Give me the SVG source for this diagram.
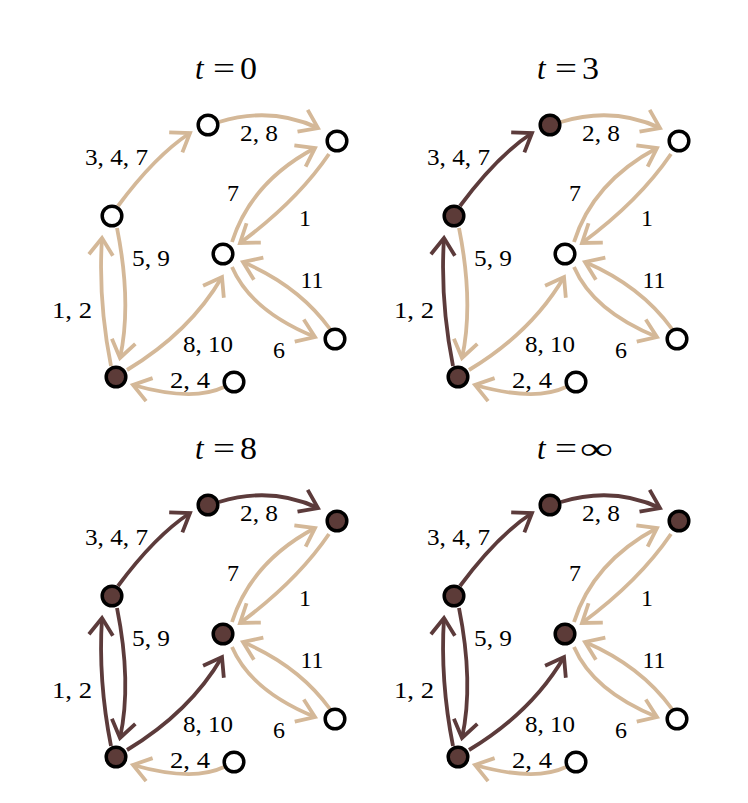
<svg xmlns="http://www.w3.org/2000/svg" width="748" height="803" viewBox="0 0 748 803">
<defs>
<style>
.e{fill:none;stroke-width:3.8}
.et{stroke:#D4B898;marker-end:url(#at)}
.ed{stroke:#5C3B3B;marker-end:url(#ad)}
.n{stroke:#000;stroke-width:3.5}
.nw{fill:#fff}
.nd{fill:#5C3B38}
.lb{font-family:"Liberation Serif","Times New Roman",serif;font-size:24px;fill:#000}
.tt{font-family:"Liberation Serif","Times New Roman",serif;font-size:31px;fill:#000}
</style>
<marker id="at" markerUnits="userSpaceOnUse" markerWidth="50" markerHeight="50" viewBox="-25 -25 50 50" refX="0" refY="0" orient="auto" overflow="visible">
<path d="M-17,-12 L0,0 L-17,12" fill="none" stroke="#D4B898" stroke-width="3.8"/>
</marker>
<marker id="ad" markerUnits="userSpaceOnUse" markerWidth="50" markerHeight="50" viewBox="-25 -25 50 50" refX="0" refY="0" orient="auto" overflow="visible">
<path d="M-17,-12 L0,0 L-17,12" fill="none" stroke="#5C3B3B" stroke-width="3.8"/>
</marker>
</defs>
<rect width="748" height="803" fill="#fff"/>

<!-- Panel t=0 -->
<g id="panel-t0">
<g id="title-t0" class="tt"><text x="195" y="79" font-style="italic">t</text><text x="213" y="79" textLength="22" lengthAdjust="spacingAndGlyphs">=</text><text x="240" y="79" textLength="17" lengthAdjust="spacingAndGlyphs">0</text></g>
<g id="edges-t0" class="e">
<path class="e et" d="M118,206 Q155,156 190,133"/>
<path class="e et" d="M219,122 Q271,106 318,128"/>
<path class="e et" d="M232,242 Q251,182 315,148"/>
<path class="e et" d="M329,154 Q297,201 240,243"/>
<path class="e et" d="M330,329 Q299,286 243,262"/>
<path class="e et" d="M232,267 Q251,311 315,337"/>
<path class="e et" d="M117,228 Q132,303 120,358"/>
<path class="e et" d="M111,366 Q98,300 102,238"/>
<path class="e et" d="M127,370 Q190,332 222,277"/>
<path class="e et" d="M224,387 Q193,402 133,385"/>
</g>
<g id="labels-t0" class="lb">
<text x="85" y="165" textLength="63" lengthAdjust="spacingAndGlyphs">3, 4, 7</text>
<text x="240" y="141" textLength="38" lengthAdjust="spacingAndGlyphs">2, 8</text>
<text x="233" y="201" text-anchor="middle">7</text>
<text x="305" y="226" text-anchor="middle">1</text>
<text x="312" y="288" text-anchor="middle">11</text>
<text x="279" y="358" text-anchor="middle">6</text>
<text x="132" y="266" textLength="38" lengthAdjust="spacingAndGlyphs">5, 9</text>
<text x="52" y="318" textLength="40" lengthAdjust="spacingAndGlyphs">1, 2</text>
<text x="183" y="352" textLength="50" lengthAdjust="spacingAndGlyphs">8, 10</text>
<text x="170" y="388" textLength="40" lengthAdjust="spacingAndGlyphs">2, 4</text>
</g>
<g id="t0-A"><circle class="n nw" cx="208" cy="125" r="9.8"/></g>
<g id="t0-B"><circle class="n nw" cx="337" cy="141" r="9.8"/></g>
<g id="t0-C"><circle class="n nw" cx="112" cy="216" r="9.8"/></g>
<g id="t0-D"><circle class="n nw" cx="223" cy="254" r="9.8"/></g>
<g id="t0-E"><circle class="n nw" cx="335" cy="339" r="9.8"/></g>
<g id="t0-F"><circle class="n nd" cx="116" cy="377" r="9.8"/></g>
<g id="t0-G"><circle class="n nw" cx="234" cy="382" r="9.8"/></g>
</g>

<!-- Panel t=3 -->
<g id="panel-t3" transform="translate(342,0)">
<g id="title-t3" class="tt"><text x="195" y="79" font-style="italic">t</text><text x="213" y="79" textLength="22" lengthAdjust="spacingAndGlyphs">=</text><text x="240" y="79" textLength="17" lengthAdjust="spacingAndGlyphs">3</text></g>
<g id="edges-t3" class="e">
<path class="e ed" d="M118,206 Q155,156 190,133"/>
<path class="e et" d="M219,122 Q271,106 318,128"/>
<path class="e et" d="M232,242 Q251,182 315,148"/>
<path class="e et" d="M329,154 Q297,201 240,243"/>
<path class="e et" d="M330,329 Q299,286 243,262"/>
<path class="e et" d="M232,267 Q251,311 315,337"/>
<path class="e et" d="M117,228 Q132,303 120,358"/>
<path class="e ed" d="M111,366 Q98,300 102,238"/>
<path class="e et" d="M127,370 Q190,332 222,277"/>
<path class="e et" d="M224,387 Q193,402 133,385"/>
</g>
<g id="labels-t3" class="lb">
<text x="85" y="165" textLength="63" lengthAdjust="spacingAndGlyphs">3, 4, 7</text>
<text x="240" y="141" textLength="38" lengthAdjust="spacingAndGlyphs">2, 8</text>
<text x="233" y="201" text-anchor="middle">7</text>
<text x="305" y="226" text-anchor="middle">1</text>
<text x="312" y="288" text-anchor="middle">11</text>
<text x="279" y="358" text-anchor="middle">6</text>
<text x="132" y="266" textLength="38" lengthAdjust="spacingAndGlyphs">5, 9</text>
<text x="52" y="318" textLength="40" lengthAdjust="spacingAndGlyphs">1, 2</text>
<text x="183" y="352" textLength="50" lengthAdjust="spacingAndGlyphs">8, 10</text>
<text x="170" y="388" textLength="40" lengthAdjust="spacingAndGlyphs">2, 4</text>
</g>
<g id="t3-A"><circle class="n nd" cx="208" cy="125" r="9.8"/></g>
<g id="t3-B"><circle class="n nw" cx="337" cy="141" r="9.8"/></g>
<g id="t3-C"><circle class="n nd" cx="112" cy="216" r="9.8"/></g>
<g id="t3-D"><circle class="n nw" cx="223" cy="254" r="9.8"/></g>
<g id="t3-E"><circle class="n nw" cx="335" cy="339" r="9.8"/></g>
<g id="t3-F"><circle class="n nd" cx="116" cy="377" r="9.8"/></g>
<g id="t3-G"><circle class="n nw" cx="234" cy="382" r="9.8"/></g>
</g>

<!-- Panel t=8 -->
<g id="panel-t8" transform="translate(0,380)">
<g id="title-t8" class="tt"><text x="195" y="79" font-style="italic">t</text><text x="213" y="79" textLength="22" lengthAdjust="spacingAndGlyphs">=</text><text x="240" y="79" textLength="17" lengthAdjust="spacingAndGlyphs">8</text></g>
<g id="edges-t8" class="e">
<path class="e ed" d="M118,206 Q155,156 190,133"/>
<path class="e ed" d="M219,122 Q271,106 318,128"/>
<path class="e et" d="M232,242 Q251,182 315,148"/>
<path class="e et" d="M329,154 Q297,201 240,243"/>
<path class="e et" d="M330,329 Q299,286 243,262"/>
<path class="e et" d="M232,267 Q251,311 315,337"/>
<path class="e ed" d="M117,228 Q132,303 120,358"/>
<path class="e ed" d="M111,366 Q98,300 102,238"/>
<path class="e ed" d="M127,370 Q190,332 222,277"/>
<path class="e et" d="M224,387 Q193,402 133,385"/>
</g>
<g id="labels-t8" class="lb">
<text x="85" y="165" textLength="63" lengthAdjust="spacingAndGlyphs">3, 4, 7</text>
<text x="240" y="141" textLength="38" lengthAdjust="spacingAndGlyphs">2, 8</text>
<text x="233" y="201" text-anchor="middle">7</text>
<text x="305" y="226" text-anchor="middle">1</text>
<text x="312" y="288" text-anchor="middle">11</text>
<text x="279" y="358" text-anchor="middle">6</text>
<text x="132" y="266" textLength="38" lengthAdjust="spacingAndGlyphs">5, 9</text>
<text x="52" y="318" textLength="40" lengthAdjust="spacingAndGlyphs">1, 2</text>
<text x="183" y="352" textLength="50" lengthAdjust="spacingAndGlyphs">8, 10</text>
<text x="170" y="388" textLength="40" lengthAdjust="spacingAndGlyphs">2, 4</text>
</g>
<g id="t8-A"><circle class="n nd" cx="208" cy="125" r="9.8"/></g>
<g id="t8-B"><circle class="n nd" cx="337" cy="141" r="9.8"/></g>
<g id="t8-C"><circle class="n nd" cx="112" cy="216" r="9.8"/></g>
<g id="t8-D"><circle class="n nd" cx="223" cy="254" r="9.8"/></g>
<g id="t8-E"><circle class="n nw" cx="335" cy="339" r="9.8"/></g>
<g id="t8-F"><circle class="n nd" cx="116" cy="377" r="9.8"/></g>
<g id="t8-G"><circle class="n nw" cx="234" cy="382" r="9.8"/></g>
</g>

<!-- Panel t=inf -->
<g id="panel-tinf" transform="translate(342,380)">
<g id="title-tinf" class="tt"><text x="195" y="79" font-style="italic">t</text><text x="213" y="79" textLength="22" lengthAdjust="spacingAndGlyphs">=</text><text x="238" y="79" textLength="33" lengthAdjust="spacingAndGlyphs">∞</text></g>
<g id="edges-tinf" class="e">
<path class="e ed" d="M118,206 Q155,156 190,133"/>
<path class="e ed" d="M219,122 Q271,106 318,128"/>
<path class="e et" d="M232,242 Q251,182 315,148"/>
<path class="e et" d="M329,154 Q297,201 240,243"/>
<path class="e et" d="M330,329 Q299,286 243,262"/>
<path class="e et" d="M232,267 Q251,311 315,337"/>
<path class="e ed" d="M117,228 Q132,303 120,358"/>
<path class="e ed" d="M111,366 Q98,300 102,238"/>
<path class="e ed" d="M127,370 Q190,332 222,277"/>
<path class="e et" d="M224,387 Q193,402 133,385"/>
</g>
<g id="labels-tinf" class="lb">
<text x="85" y="165" textLength="63" lengthAdjust="spacingAndGlyphs">3, 4, 7</text>
<text x="240" y="141" textLength="38" lengthAdjust="spacingAndGlyphs">2, 8</text>
<text x="233" y="201" text-anchor="middle">7</text>
<text x="305" y="226" text-anchor="middle">1</text>
<text x="312" y="288" text-anchor="middle">11</text>
<text x="279" y="358" text-anchor="middle">6</text>
<text x="132" y="266" textLength="38" lengthAdjust="spacingAndGlyphs">5, 9</text>
<text x="52" y="318" textLength="40" lengthAdjust="spacingAndGlyphs">1, 2</text>
<text x="183" y="352" textLength="50" lengthAdjust="spacingAndGlyphs">8, 10</text>
<text x="170" y="388" textLength="40" lengthAdjust="spacingAndGlyphs">2, 4</text>
</g>
<g id="tinf-A"><circle class="n nd" cx="208" cy="125" r="9.8"/></g>
<g id="tinf-B"><circle class="n nd" cx="337" cy="141" r="9.8"/></g>
<g id="tinf-C"><circle class="n nd" cx="112" cy="216" r="9.8"/></g>
<g id="tinf-D"><circle class="n nd" cx="223" cy="254" r="9.8"/></g>
<g id="tinf-E"><circle class="n nw" cx="335" cy="339" r="9.8"/></g>
<g id="tinf-F"><circle class="n nd" cx="116" cy="377" r="9.8"/></g>
<g id="tinf-G"><circle class="n nw" cx="234" cy="382" r="9.8"/></g>
</g>
</svg>
